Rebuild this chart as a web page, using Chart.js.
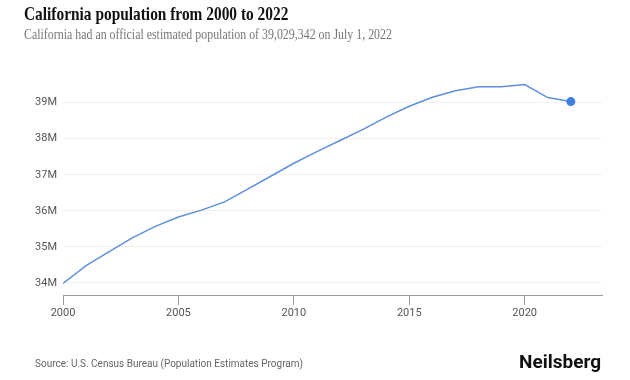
<!DOCTYPE html>
<html>
<head>
<meta charset="utf-8">
<script src="https://cdn.jsdelivr.net/npm/chart.js@4"></script>
<style>
  body { margin: 0; width: 630px; height: 380px; background: #fff; position: relative; overflow: hidden; }
  #title { position: absolute; left: 24px; top: 3px; font-family: "Liberation Serif", serif; font-weight: bold; font-size: 19px; color: #111; white-space: nowrap; transform: scaleX(0.81); transform-origin: left top; }
  #subtitle { position: absolute; left: 24px; top: 27px; font-family: "Liberation Serif", serif; font-size: 14px; color: #777; white-space: nowrap; transform: scaleX(0.85); transform-origin: left top; }
  #source { position: absolute; left: 35px; top: 358px; font-family: Roboto, sans-serif; font-size: 10px; color: #666; white-space: nowrap; }
  #brand { position: absolute; left: 519px; top: 350px; font-family: Roboto, sans-serif; font-weight: bold; font-size: 19px; color: #111; white-space: nowrap; }
  #wrap { position: absolute; left: 0; top: 0; width: 630px; height: 380px; }
</style>
</head>
<body>
<div id="wrap"><canvas id="chart"></canvas></div>
<div id="title">California population from 2000 to 2022</div>
<div id="subtitle">California had an official estimated population of 39,029,342 on July 1, 2022</div>
<div id="source">Source: U.S. Census Bureau (Population Estimates Program)</div>
<div id="brand">Neilsberg</div>
<script>
// Data
const years = [2000, 2001, 2002, 2003, 2004, 2005, 2006, 2007, 2008, 2009, 2010, 2011,
               2012, 2013, 2014, 2015, 2016, 2017, 2018, 2019, 2020, 2021, 2022];
const population = [33990000, 34480000, 34870000, 35250000, 35570000, 35830000, 36020000,
                    36250000, 36600000, 36960000, 37320000, 37640000, 37950000, 38260000,
                    38600000, 38900000, 39150000, 39330000, 39440000, 39440000, 39500000,
                    39140000, 39029342];
const xTicks = [2000, 2005, 2010, 2015, 2020];
const yTicks = [34000000, 35000000, 36000000, 37000000, 38000000, 39000000];

const lastIdx = population.length - 1;

new Chart(document.getElementById('chart'), {
    type: 'line',
    data: {
        datasets: [{
            data: years.map((y, i) => ({ x: y, y: population[i] })),
            borderColor: '#5e90dc',
            borderWidth: 1.5,
            tension: 0,
            pointRadius: ctx => ctx.dataIndex === lastIdx ? 4.5 : 0,
            pointBackgroundColor: '#3c7fe0',
            pointBorderWidth: 0
        }]
    },
    options: {
        responsive: true,
        maintainAspectRatio: false,
        animation: false,
        layout: { padding: { top: 81, right: 28, bottom: 50, left: 0 } },
        plugins: { legend: { display: false }, tooltip: { enabled: false } },
        scales: {
            x: {
                type: 'linear',
                min: 2000,
                max: 2023.35,
                afterBuildTicks: s => { s.ticks = xTicks.map(v => ({ value: v })); },
                afterFit: s => { s.height = 35; },
                grid: { drawOnChartArea: false, drawTicks: true, tickLength: 10, color: '#999' },
                border: { color: '#999', width: 1 },
                ticks: {
                    color: '#555',
                    font: { family: 'Roboto', size: 11 },
                    padding: 2,
                    maxRotation: 0,
                    callback: v => String(v)
                }
            },
            y: {
                min: 33667000,
                max: 39600000,
                afterBuildTicks: s => { s.ticks = yTicks.map(v => ({ value: v })); },
                afterFit: s => { s.width = 63; },
                grid: { color: '#f0f0f0', drawTicks: false },
                border: { display: false },
                ticks: {
                    color: '#555',
                    font: { family: 'Roboto', size: 11 },
                    padding: 6,
                    callback: v => (v / 1000000) + 'M'
                }
            }
        }
    }
});
</script>
</body>
</html>
